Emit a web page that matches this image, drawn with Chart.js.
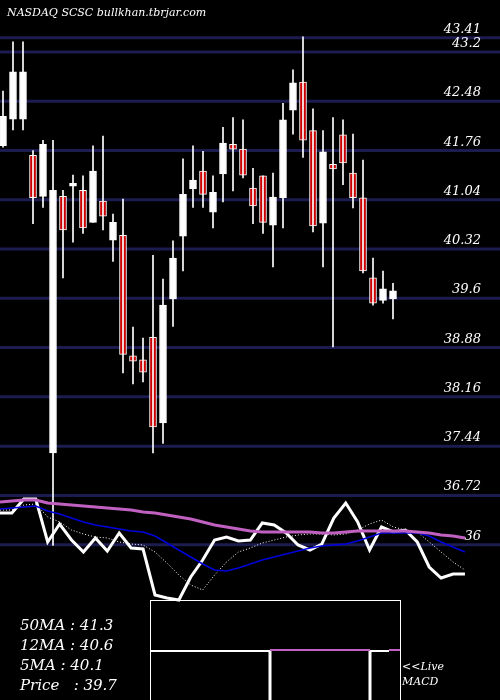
<!DOCTYPE html>
<html><head><meta charset="utf-8">
<script src="https://cdn.jsdelivr.net/npm/chart.js@4/dist/chart.umd.min.js"></script>
<style>html,body{margin:0;padding:0;background:#000;}#w{width:500px;height:700px;}</style>
</head><body><div id="w"><canvas id="c"></canvas></div>
<script>
const opens  =[41.83,42.22,42.22,41.69,41.09,37.34,41.09,41.24,41.18,40.71,41.02,40.45,40.52,38.76,38.70,39.03,37.78,39.59,40.51,41.20,41.46,40.86,41.42,41.85,41.78,41.21,41.39,40.67,41.07,42.35,42.76,42.05,40.70,41.56,41.99,41.43,41.07,39.90,39.57,39.59];
const highs  =[42.63,43.35,43.35,41.76,41.91,41.91,41.18,41.40,41.39,41.83,41.97,40.83,41.05,39.18,39.02,40.23,39.88,40.44,41.64,41.83,41.75,41.39,42.10,42.24,42.21,41.50,41.39,41.43,42.45,42.94,43.42,42.37,42.05,42.24,42.21,42.00,41.62,40.19,40.00,39.82];
const lows   =[41.81,42.06,42.06,40.69,40.93,35.99,39.90,40.42,40.55,40.71,40.60,40.14,38.51,38.35,38.38,37.34,37.48,39.19,40.00,40.93,40.93,40.63,41.01,41.17,41.36,40.69,40.55,40.06,40.63,42.00,41.66,40.57,40.06,38.89,41.26,40.92,39.97,39.50,39.53,39.30];
const closes =[42.26,42.91,42.91,41.07,41.85,41.18,40.60,41.28,40.63,41.46,40.80,40.71,38.78,38.68,38.52,37.72,39.50,40.19,41.12,41.33,41.12,41.15,41.87,41.78,41.40,40.95,40.71,41.08,42.21,42.75,41.91,40.66,41.74,41.49,41.58,41.07,40.00,39.53,39.74,39.71];
const priceTicks=[43.41,43.2,42.48,41.76,41.04,40.32,39.6,38.88,38.16,37.44,36.72,36];
const priceLine=[8.7,8.7,10.1,10.1,5.8,7.6,6.0,4.8,6.2,4.9,6.7,5.2,5.1,0.5,0.2,0.0,2.3,4.0,6.0,6.3,5.9,6.0,7.7,7.5,6.7,5.5,5.0,5.6,8.2,9.7,7.8,5.0,7.3,6.8,7.0,5.8,3.3,2.2,2.6,2.6];
const ma5Line=[9.0,9.0,9.5,9.6,8.3,7.8,7.0,6.6,6.3,6.2,5.8,5.6,5.5,4.8,3.7,2.5,1.5,1.0,2.5,3.8,4.8,5.2,5.7,6.0,6.3,6.5,6.6,6.6,6.5,6.6,7.0,7.6,8.0,7.3,7.0,6.8,5.8,4.8,3.8,3.0];
const ma12Line=[9.1,9.2,9.3,9.4,8.9,8.6,8.2,7.8,7.5,7.3,7.1,6.9,6.8,6.4,5.7,5.0,4.3,3.6,3.0,2.9,3.2,3.6,4.0,4.3,4.6,4.9,5.2,5.4,5.5,5.6,5.9,6.3,6.7,6.7,6.7,6.7,6.4,5.8,5.3,4.8];
const ma50Line=[9.8,9.9,10.0,10.0,9.7,9.6,9.5,9.4,9.3,9.2,9.1,9.0,8.8,8.7,8.5,8.3,8.1,7.8,7.5,7.3,7.1,6.9,6.8,6.8,6.8,6.8,6.8,6.7,6.7,6.8,6.9,6.9,6.9,6.9,6.9,6.8,6.7,6.5,6.4,6.2];
const infoLabels=["50MA : 41.3","12MA : 40.6","5MA : 40.1","Price   : 39.7"];

const wicks=opens.map((o,i)=>({x:i,y:[lows[i],highs[i]]}));
const bodies=opens.map((o,i)=>({x:i,y:[o,closes[i]]}));
const up=opens.map((o,i)=>closes[i]>=o);
const pts=a=>a.map((v,i)=>({x:i,y:v}));

const grid={id:'grid',beforeDatasetsDraw(ch){
  const c=ch.ctx,y=ch.scales.y;c.save();
  c.strokeStyle='#1c1c50';c.lineWidth=3;
  c.fillStyle='#fff';c.font='italic 13px "DejaVu Serif", serif';c.textAlign='right';c.textBaseline='alphabetic';
  priceTicks.forEach(v=>{const p=y.getPixelForValue(v);c.beginPath();c.moveTo(0,p);c.lineTo(500,p);c.stroke();});
  priceTicks.forEach(v=>{const p=y.getPixelForValue(v);c.fillText(String(v),481,p-5);});
  c.restore();
}};
const deco={id:'deco',afterDraw(ch){
  const c=ch.ctx;c.save();
  c.fillStyle='#fff';c.font='italic 11px "DejaVu Serif", serif';c.textBaseline='alphabetic';
  c.fillText('NASDAQ SCSC bullkhan.tbrjar.com',7,16);
  c.font='italic 15px "DejaVu Serif", serif';
  infoLabels.forEach((t,i)=>c.fillText(t,20,630+i*20));
  c.font='italic 11px "DejaVu Serif", serif';
  c.fillText('<<Live',402,670);c.fillText('MACD',402,685);
  c.strokeStyle='#fff';c.lineWidth=1;c.strokeRect(150.5,600.5,250,100);
  c.lineWidth=2;c.beginPath();c.moveTo(151,651);c.lineTo(270,651);c.stroke();
  c.strokeStyle='#c060c0';c.beginPath();c.moveTo(270,650);c.lineTo(370,650);c.stroke();
  c.strokeStyle='#fff';c.beginPath();c.moveTo(370,651);c.lineTo(389,651);c.stroke();
  c.strokeStyle='#c060c0';c.beginPath();c.moveTo(389,650);c.lineTo(400,650);c.stroke();
  c.strokeStyle='#fff';c.lineWidth=3;c.beginPath();c.moveTo(270,651);c.lineTo(270,700);c.moveTo(370,651);c.lineTo(370,700);c.stroke();
  c.restore();
}};
const bg={id:'bg',beforeDraw(ch){const c=ch.ctx;c.save();c.fillStyle='#000';c.fillRect(0,0,ch.width,ch.height);c.restore();}};

new Chart(document.getElementById('c'),{
  type:'bar',
  data:{datasets:[
    {type:'line',data:pts(ma50Line),xAxisID:'x2',yAxisID:'y2',borderColor:'#c060c0',borderWidth:3,pointRadius:0,tension:0},
    {type:'line',data:pts(ma12Line),xAxisID:'x2',yAxisID:'y2',borderColor:'#0000dd',borderWidth:1.5,pointRadius:0,tension:0},
    {type:'line',data:pts(ma5Line),xAxisID:'x2',yAxisID:'y2',borderColor:'#fff',borderWidth:1,borderDash:[1,2],pointRadius:0,tension:0},
    {type:'line',data:pts(priceLine),xAxisID:'x2',yAxisID:'y2',borderColor:'#fff',borderWidth:3,pointRadius:0,tension:0},
    {data:wicks,backgroundColor:'#fff',barThickness:1,grouped:false,xAxisID:'x',yAxisID:'y'},
    {data:bodies,backgroundColor:up.map(u=>u?'#fff':'#cc0000'),borderColor:'#fff',borderWidth:1,borderSkipped:false,barThickness:7,minBarLength:2,grouped:false,xAxisID:'x',yAxisID:'y'}
  ]},
  options:{responsive:true,maintainAspectRatio:false,animation:false,
    layout:{padding:0,autoPadding:false},
    plugins:{legend:{display:false},tooltip:{enabled:false}},
    scales:{
      x:{type:'linear',min:-0.3,max:49.7,display:false,offset:false},
      x2:{type:'linear',min:0,max:41.94,display:false,offset:false},
      y:{type:'linear',min:33.73,max:43.96,display:false},
      y2:{type:'linear',min:-10,max:60,display:false}
    }
  },
  plugins:[bg,grid,deco]
});
</script></body></html>
